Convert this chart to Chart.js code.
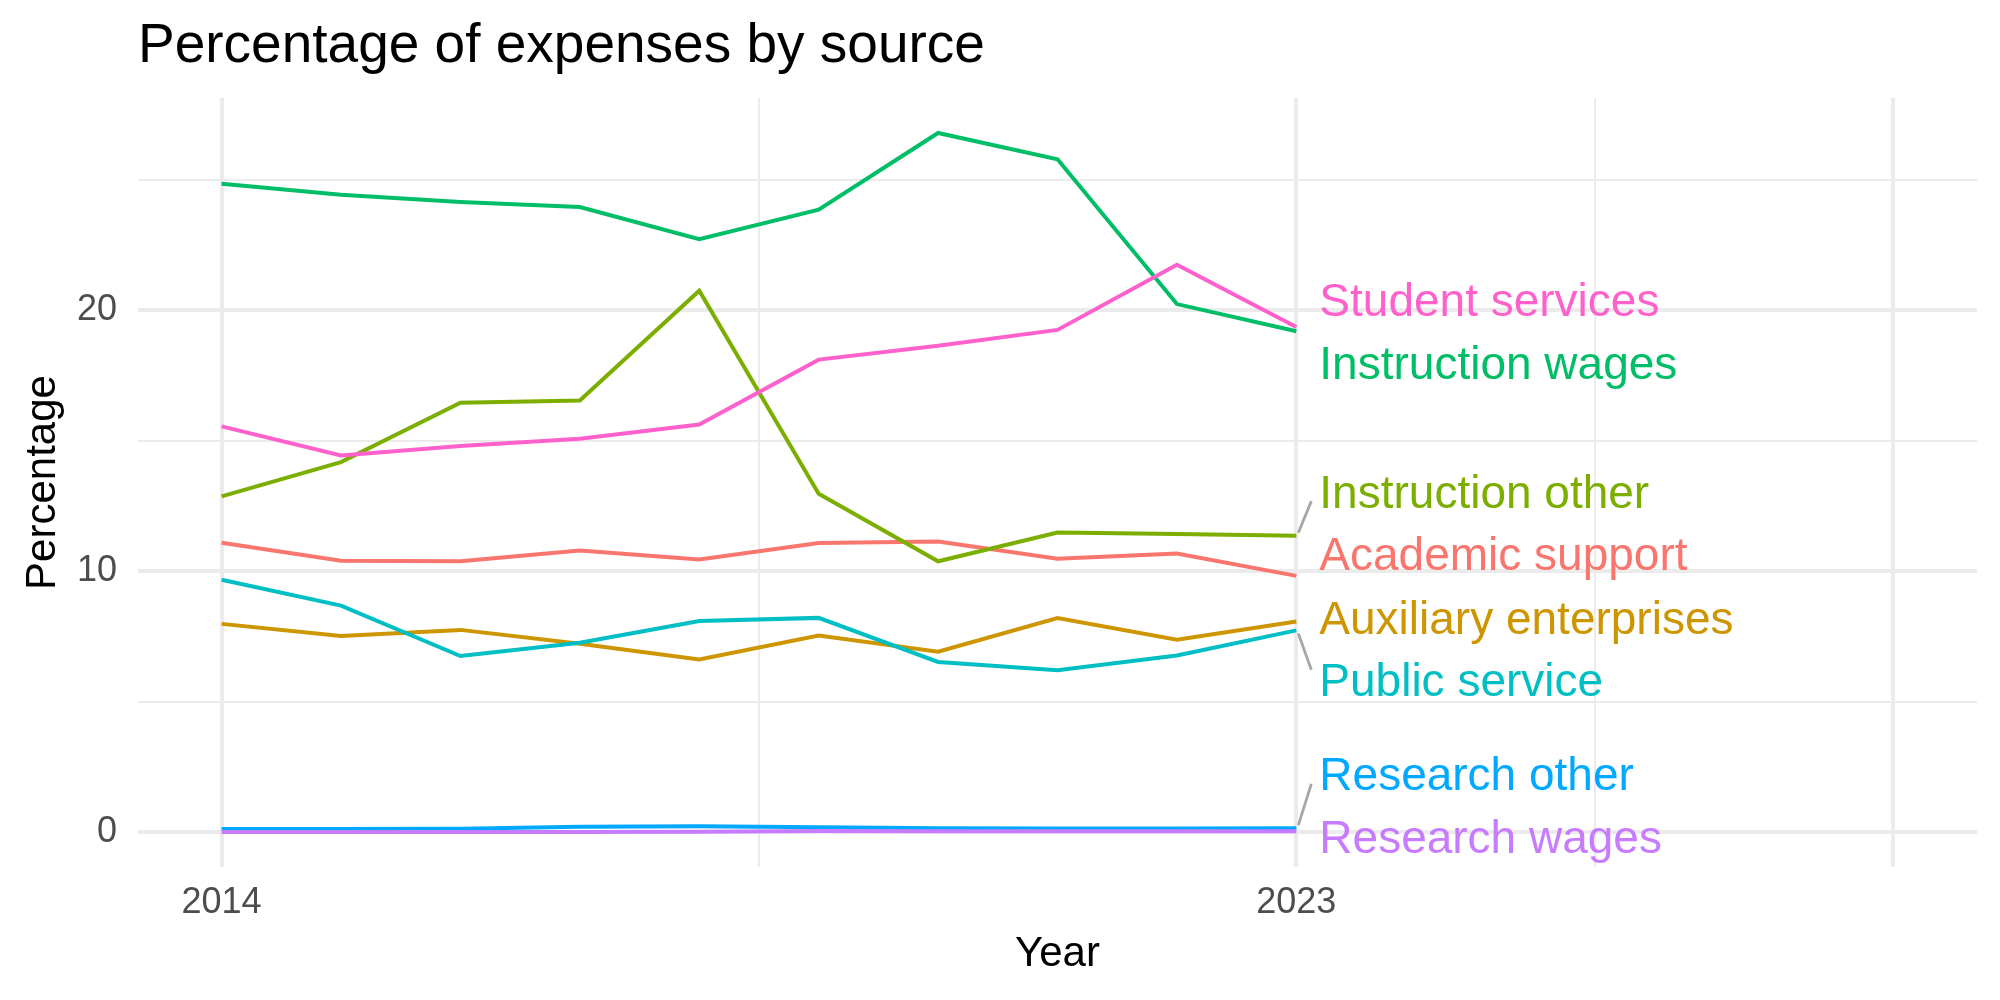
<!DOCTYPE html>
<html>
<head>
<meta charset="utf-8">
<script src="https://cdn.jsdelivr.net/npm/chart.js@4.4.1/dist/chart.umd.min.js"></script>
<style>
  html, body { margin: 0; padding: 0; background: #ffffff; }
  #wrap { width: 2000px; height: 1000px; position: relative; }
</style>
</head>
<body>
<div id="wrap"><canvas id="c" width="2000" height="1000"></canvas></div>
<script>
// ---------- data ----------
const years = [2014, 2015, 2016, 2017, 2018, 2019, 2020, 2021, 2022, 2023];
const seriesNames = ["Academic support", "Auxiliary enterprises", "Instruction other", "Instruction wages",
                     "Public service", "Research other", "Research wages", "Student services"];
const academicSupport      = [11.09, 10.40, 10.38, 10.79, 10.45, 11.08, 11.14, 10.48, 10.68, 9.82];
const auxiliaryEnterprises = [7.98, 7.52, 7.75, 7.22, 6.62, 7.53, 6.91, 8.20, 7.37, 8.07];
const instructionOther     = [12.87, 14.18, 16.46, 16.54, 20.75, 12.97, 10.38, 11.48, 11.43, 11.36];
const instructionWages     = [24.85, 24.43, 24.15, 23.96, 22.73, 23.86, 26.80, 25.79, 20.24, 19.20];
const publicService        = [9.67, 8.68, 6.75, 7.26, 8.09, 8.21, 6.52, 6.20, 6.77, 7.73];
const researchOther        = [0.12, 0.12, 0.13, 0.20, 0.22, 0.18, 0.15, 0.14, 0.14, 0.15];
const researchWages        = [0.00, 0.00, 0.00, 0.00, 0.01, 0.04, 0.03, 0.03, 0.03, 0.03];
const studentServices      = [15.55, 14.44, 14.80, 15.08, 15.62, 18.11, 18.64, 19.25, 21.75, 19.36];
// repelled label positions (data units on the y axis)
const labelValues = [10.66, 8.24, 13.07, 18.00, 5.84, 2.23, -0.17, 20.43];
const yTicks = [0, 5, 10, 15, 20, 25];
const yTickLabels = ["0", "", "10", "", "20", ""];
const xTicks = [2014, 2018.5, 2023, 2025.5, 2028];
const xTickLabels = ["2014", "", "2023", "", ""];
const xMajor = [2014, 2023, 2028];

const seriesValues = [academicSupport, auxiliaryEnterprises, instructionOther, instructionWages,
                      publicService, researchOther, researchWages, studentServices];
const colors = ["#F8766D", "#CD9600", "#7CAE00", "#00BE67", "#00BFC4", "#00A9FF", "#C77CFF", "#FF61CC"];

const FONT = "'Liberation Sans', Arial, Helvetica, sans-serif";
const GRID = "#EBEBEB";
const LABEL_SIZE = 46;

const datasets = seriesNames.map((name, i) => ({
  label: name,
  data: years.map((y, j) => ({ x: y, y: seriesValues[i][j] })),
  borderColor: colors[i],
  backgroundColor: colors[i],
  borderWidth: 4,
  pointRadius: 0,
  pointHoverRadius: 0,
  tension: 0,
  fill: false,
  order: seriesNames.length - 1 - i
}));

const annotate = {
  id: 'annotate',
  afterDatasetsDraw(chart) {
    const ctx = chart.ctx;
    const xs = chart.scales.x, ys = chart.scales.y;
    const lastYear = years[years.length - 1];
    const px = xs.getPixelForValue(lastYear);
    const labelX = px + 23;
    ctx.save();
    ctx.font = LABEL_SIZE + "px " + FONT;
    ctx.textAlign = 'left';
    ctx.textBaseline = 'alphabetic';
    const capHalf = LABEL_SIZE * 0.716 / 2;
    seriesNames.forEach((name, i) => {
      const vy = ys.getPixelForValue(seriesValues[i][seriesValues[i].length - 1]);
      const ly = ys.getPixelForValue(labelValues[i]);
      const dy = vy - ly;
      if (Math.abs(dy) > 40) {
        const dir = dy > 0 ? 1 : -1;
        const endY = ly + dir * 10;
        const endX = labelX - 8;
        const sx = px + 2, sy = vy - dir * 3;
        ctx.beginPath();
        ctx.moveTo(sx, sy);
        ctx.lineTo(endX, endY);
        ctx.strokeStyle = "#A6A6A6";
        ctx.lineWidth = 2.8;
        ctx.lineCap = 'butt';
        ctx.stroke();
      }
      ctx.fillStyle = colors[i];
      ctx.fillText(name, labelX, ly + capHalf);
    });
    ctx.restore();
  },
  afterDraw(chart) {
    const ctx = chart.ctx;
    const ca = chart.chartArea;
    ctx.save();
    // title
    ctx.fillStyle = "#000000";
    ctx.font = "55px " + FONT;
    ctx.textAlign = 'left';
    ctx.textBaseline = 'alphabetic';
    ctx.fillText("Percentage of expenses by source", ca.left, 62);
    // x axis title
    ctx.font = "42px " + FONT;
    ctx.textAlign = 'center';
    ctx.fillText("Year", (ca.left + ca.right) / 2, 966);
    // y axis title
    ctx.translate(55, (ca.top + ca.bottom) / 2);
    ctx.rotate(-Math.PI / 2);
    ctx.fillText("Percentage", 0, 0);
    ctx.restore();
  }
};

new Chart(document.getElementById('c'), {
  type: 'line',
  data: { datasets },
  plugins: [annotate],
  options: {
    responsive: false,
    animation: false,
    devicePixelRatio: 1,
    layout: { padding: { top: 98, right: 23, left: 0, bottom: 0 } },
    plugins: {
      legend: { display: false },
      title: { display: false },
      tooltip: { enabled: false }
    },
    scales: {
      x: {
        type: 'linear',
        min: 2013.3,
        max: 2028.7,
        afterBuildTicks: (scale) => { scale.ticks = xTicks.map(v => ({ value: v })); },
        afterFit: (scale) => { scale.height = 133; },
        border: { display: false },
        grid: {
          color: GRID,
          lineWidth: (c) => (c.tick && xMajor.includes(c.tick.value)) ? 4 : 2,
          drawTicks: false
        },
        ticks: {
          autoSkip: false,
          maxRotation: 0,
          padding: 14,
          color: "#4D4D4D",
          font: { family: FONT, size: 36 },
          callback: (v) => { const k = xTicks.indexOf(v); return k >= 0 ? xTickLabels[k] : ""; }
        }
      },
      y: {
        type: 'linear',
        min: -1.34,
        max: 28.14,
        afterBuildTicks: (scale) => { scale.ticks = yTicks.map(v => ({ value: v })); },
        afterFit: (scale) => { scale.width = 138; },
        border: { display: false },
        grid: {
          color: GRID,
          lineWidth: (c) => (c.tick && c.tick.value % 10 === 0) ? 4 : 2,
          drawTicks: false
        },
        ticks: {
          padding: 21,
          color: "#4D4D4D",
          font: { family: FONT, size: 36 },
          callback: (v) => { const k = yTicks.indexOf(v); return k >= 0 ? yTickLabels[k] : ""; }
        }
      }
    }
  }
});
</script>
</body>
</html>
